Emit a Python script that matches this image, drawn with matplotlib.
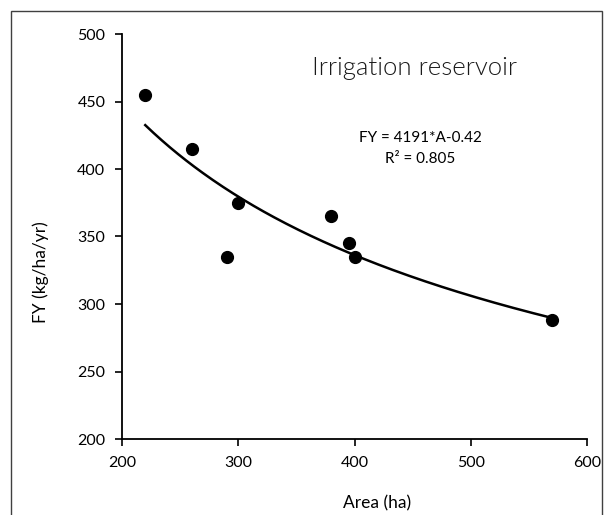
import numpy as np
import matplotlib
matplotlib.use("Agg")
from matplotlib import pyplot as plt
from matplotlib.patches import Rectangle

# reservoir area (ha) and fish yield (kg/ha/yr)
area = [220, 260, 290, 300, 380, 395, 400, 570]
fish_yield = [455, 415, 335, 375, 365, 345, 335, 288]

title = "Irrigation reservoir"
equation = "FY = 4191*A-0.42"
r_squared = "R\u00b2 = 0.805"

plt.rcParams["font.family"] = ["Lato", "DejaVu Sans"]

fig = plt.figure(figsize=(6.08, 5.15), dpi=100)
ax = fig.add_axes([122 / 608, 76 / 515, 465 / 608, 405 / 515])

# power trendline, fitted in log space like a spreadsheet does
slope, intercept = np.polyfit(np.log(area), np.log(fish_yield), 1)
xs = np.linspace(min(area), max(area), 200)
ax.plot(xs, np.exp(intercept) * xs ** slope, color="black", lw=1.8, zorder=2)

ax.plot(area, fish_yield, "o", color="black", markersize=8.5, zorder=3)

ax.set_xlim(200, 600)
ax.set_ylim(200, 500)
ax.set_xticks(range(200, 601, 100))
ax.set_yticks(range(200, 501, 50))
ax.tick_params(direction="out", length=5, width=1.2, labelsize=11.5,
               colors="black", pad=7)
for side in ["top", "right"]:
    ax.spines[side].set_visible(False)
for side in ["left", "bottom"]:
    ax.spines[side].set_linewidth(1.3)

fig.text(41 / 608, 1 - 272 / 515, "FY (kg/ha/yr)", rotation=90,
         ha="center", va="center", fontsize=12.5)
fig.text(377 / 608, 1 - 503 / 515, "Area (ha)", ha="center", va="center",
         fontsize=12.5)

fig.text(414 / 608, 1 - 68 / 515, title, ha="center", va="center",
         fontsize=18.5, fontweight=300, color="#1a1a1a")
fig.text(420 / 608, 1 - 138 / 515, equation, ha="center", va="center",
         fontsize=11)
fig.text(420 / 608, 1 - 159 / 515, r_squared, ha="center", va="center",
         fontsize=11)

# chart frame, bottom edge runs off the picture
fig.patches.append(Rectangle((11 / 608, -0.05), 591 / 608, 1.05 - 11 / 515,
                             transform=fig.transFigure, fill=False,
                             edgecolor="#404040", lw=1.0, clip_on=False))

fig.savefig("out.png", dpi=100)
